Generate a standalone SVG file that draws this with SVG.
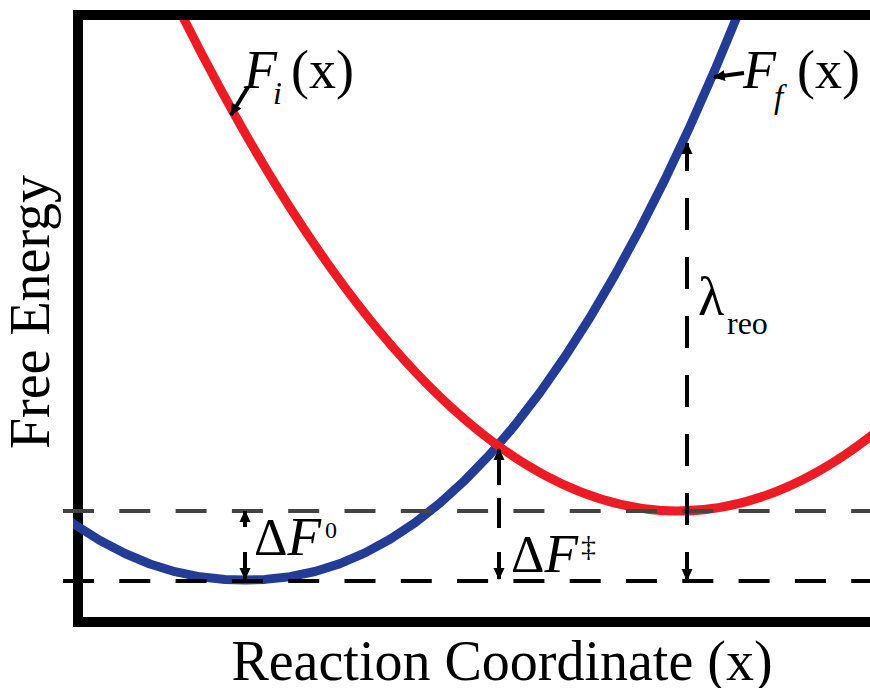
<svg xmlns="http://www.w3.org/2000/svg" width="870" height="688" viewBox="0 0 870 688">
<style>
.frame{fill:none;stroke:#000;stroke-width:10}
.curve{fill:none;stroke-width:9;stroke-linejoin:round}
.red{stroke:#ED1C24}
.blue{stroke:#233C96}
.hdash{fill:none;stroke-width:4;stroke-dasharray:31 25.3}
.arr{fill:none;stroke:#000;stroke-width:4}
.t{font-family:"Liberation Serif","Times New Roman",serif;fill:#000}
.it{font-style:italic}
</style>
<defs>
<marker id="ah" viewBox="0 0 12 12" refX="11" refY="6" markerWidth="12" markerHeight="12" markerUnits="userSpaceOnUse" orient="auto">
<path d="M0,0.5 L12,6 L0,11.5 Z" fill="#000"/>
</marker>
<clipPath id="plot"><rect x="73" y="20" width="800" height="600"/></clipPath>
</defs>
<rect width="870" height="688" fill="#fff"/>
<g id="frame"><rect class="frame" x="78" y="15" width="820" height="607"/></g>
<g id="curves" clip-path="url(#plot)">
<path id="Ff" class="curve blue" d="M65,518 L73,523.5 L100,540.5 L125,553.5 L150,564 L175,571.7 L200,576.8 L225,579.4 L245,580 L265,579.4 L290,576.7 L315,571.5 L340,563.6 L365,552.9 L390,539.3 L415,522.7 L440,503 L465,480.2 L490,454.3 L515,425 L540,392.5 L565,356.7 L590,317.5 L615,274.9 L640,228.8 L665,179.4 L690,126.3 L715,69.6 L740,9.3 L745,-2.9"/>
<path id="Fi" class="curve red" d="M170,-9.1 Q525,717.8 880,428.8"/>
</g>
<g id="connectors">
<line class="hdash" x1="63" y1="511" x2="870" y2="511" stroke="#444"/>
<line class="hdash" x1="63" y1="581" x2="870" y2="581" stroke="#000"/>
<line class="arr" x1="245" y1="527" x2="245" y2="511" marker-end="url(#ah)"/>
<line class="arr" x1="245" y1="552" x2="245" y2="579" marker-end="url(#ah)"/>
<line class="arr" x1="499" y1="485" x2="499" y2="449" marker-end="url(#ah)"/>
<line class="arr" x1="499" y1="498" x2="499" y2="528"/>
<line class="arr" x1="499" y1="552" x2="499" y2="579" marker-end="url(#ah)"/>
<line class="arr" x1="687" y1="171" x2="687" y2="143" marker-end="url(#ah)"/>
<line class="arr" x1="687" y1="198" x2="687" y2="525" stroke-dasharray="32 27"/>
<line class="arr" x1="687" y1="552" x2="687" y2="580" marker-end="url(#ah)"/>
<line class="arr" x1="248" y1="87" x2="231" y2="115" marker-end="url(#ah)"/>
<line class="arr" x1="744" y1="73" x2="714" y2="77" marker-end="url(#ah)"/>
</g>
<g id="label-Fi">
<text class="t it" x="244" y="88" font-size="54">F</text>
<text class="t it" x="273" y="104" font-size="32">i</text>
<text class="t" x="291" y="88" font-size="54">(x)</text>
</g>
<g id="label-Ff">
<text class="t it" x="743" y="88" font-size="54">F</text>
<text class="t it" x="774" y="108" font-size="33">f</text>
<text class="t" x="797" y="88" font-size="54">(x)</text>
</g>
<g id="label-lambda">
<text class="t" x="698" y="315" font-size="54">λ</text>
<text class="t" x="727" y="334" font-size="32">reo</text>
</g>
<g id="label-dF0">
<text class="t" x="254" y="555" font-size="52">Δ<tspan class="it" font-size="55">F</tspan></text>
<text class="t" x="325" y="538" font-size="24">0</text>
</g>
<g id="label-dFt">
<text class="t" x="511" y="572" font-size="52">Δ<tspan class="it" font-size="55">F</tspan></text>
<text class="t" x="581" y="556" font-size="30">‡</text>
</g>
<g id="axis-labels">
<text class="t" x="502" y="680" font-size="56" text-anchor="middle">Reaction Coordinate (x)</text>
<text class="t" transform="translate(49,312) rotate(-90)" font-size="56" text-anchor="middle">Free Energy</text>
</g>
</svg>
